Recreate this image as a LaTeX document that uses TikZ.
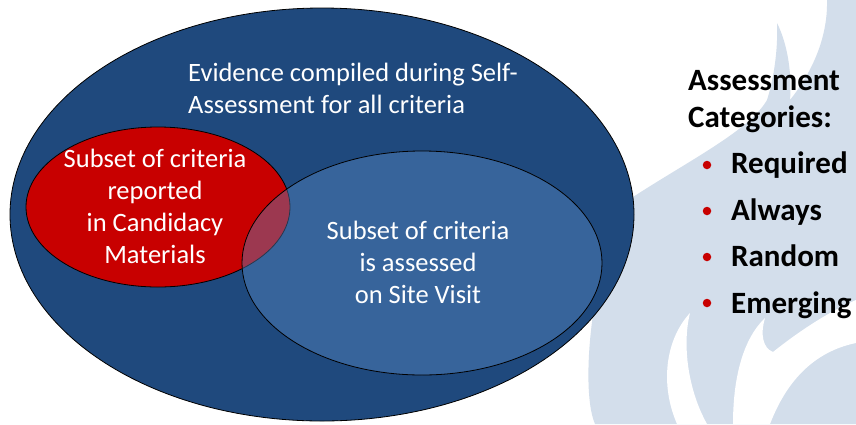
\documentclass[tikz,border=0pt]{standalone}
\usepackage{fontspec}
\setmainfont{Carlito}
\usetikzlibrary{shapes.geometric}
\definecolor{darkblue}{RGB}{31,73,125}
\definecolor{vennred}{RGB}{200,0,0}
\definecolor{siteblue}{RGB}{92,142,202}
\definecolor{flame}{RGB}{211,222,235}
\begin{document}
\begin{tikzpicture}[x=1pt,y=-1pt,
  venn/.style={ellipse, draw=black, line width=0.8pt, inner sep=0pt, outer sep=0pt},
  wtext/.style={text=white, font=\fontsize{26.5}{31.8}\selectfont, align=center, inner sep=0pt},
  cattext/.style={text=black, font=\bfseries\fontsize{31}{37}\selectfont, inner sep=0pt, anchor=base west},
  bulletdot/.style={circle, fill=vennred, minimum size=8.5pt, inner sep=0pt}]
\useasboundingbox (0,0) rectangle (856,424);
\fill[white] (0,0) rectangle (856,424);
% flame watermark
\fill[flame] (595,424) .. controls (578,385) and (595,240) .. (633,197)
  .. controls (690,160) and (750,130) .. (767,100)
  .. controls (775,75) and (778,45) .. (777,23)
  .. controls (788,45) and (792,75) .. (790,100)
  .. controls (810,75) and (828,40) .. (827,0)
  -- (856,0) -- (856,424) -- cycle;
\fill[white] (677,424) .. controls (660,385) and (665,340) .. (690,313)
  .. controls (682,345) and (688,390) .. (707,424) -- cycle;
\fill[white] (733,424) .. controls (733,380) and (742,340) .. (765,318)
  .. controls (760,335) and (763,348) .. (773,352)
  .. controls (798,332) and (828,312) .. (856,300)
  -- (856,343) .. controls (822,350) and (790,372) .. (770,424) -- cycle;
% venn
\node[venn, fill=darkblue, minimum width=624pt, minimum height=413pt] (all) at (322,214.5) {};
\node[venn, fill=vennred, minimum width=264pt, minimum height=160pt] (cand) at (158,207) {};
\node[venn, fill=siteblue, fill opacity=0.4, minimum width=360pt, minimum height=224pt] (site) at (422,263) {};
\node[wtext, align=left, anchor=base west] (evid) at (188,113) {Evidence compiled during Self-\\Assessment for all criteria};
\node[wtext, anchor=base] (candtxt) at (155,263) {Subset of criteria\\reported\\in Candidacy\\Materials};
\node[wtext, anchor=base] (sitetxt) at (418,303) {Subset of criteria\\is assessed\\on Site Visit};
% categories
\node[cattext] (cat1) at (688,90) {Assessment};
\node[cattext] (cat2) at (688,127) {Categories:};
\node[bulletdot] (b1) at (707,165) {};
\node[bulletdot] (b2) at (707,211) {};
\node[bulletdot] (b3) at (707,257) {};
\node[bulletdot] (b4) at (707,303) {};
\node[cattext] (t1) at (731,173) {Required};
\node[cattext] (t2) at (731,220) {Always};
\node[cattext] (t3) at (731,266) {Random};
\node[cattext] (t4) at (731,313) {Emerging};
\end{tikzpicture}
\end{document}
